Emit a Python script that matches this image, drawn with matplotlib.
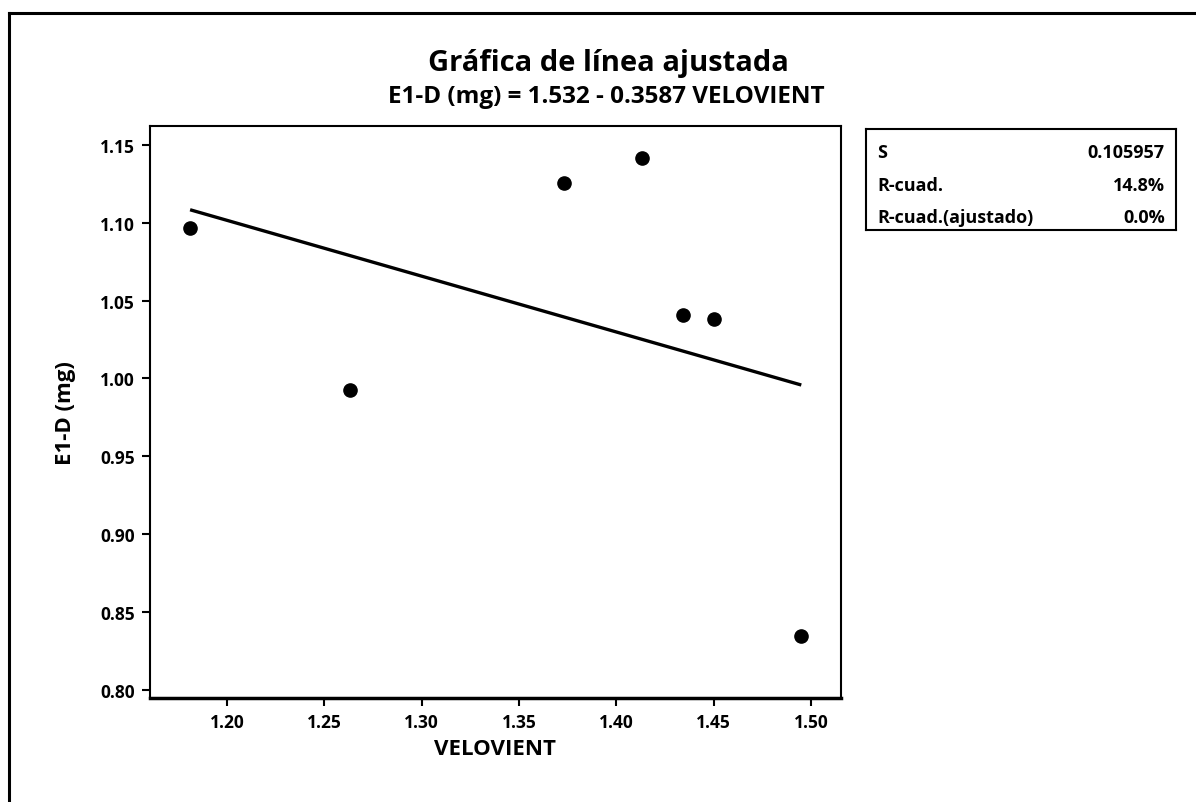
import numpy as np
import matplotlib.pyplot as plt
from matplotlib.lines import Line2D

plt.rcParams['font.family'] = ['Open Sans', 'DejaVu Sans']
plt.rcParams['font.weight'] = 'bold'

# Observed data
velovient = [1.181, 1.263, 1.373, 1.413, 1.434, 1.450, 1.495]
e1d_mg = [1.0965, 0.9925, 1.1258, 1.1418, 1.0409, 1.0382, 0.8344]

# Fitted model and summary
intercept = 1.532
slope = -0.3587
stat_names = ['S', 'R-cuad.', 'R-cuad.(ajustado)']
stat_values = ['0.105957', '14.8%', '0.0%']

x_ticks = [1.20, 1.25, 1.30, 1.35, 1.40, 1.45, 1.50]
y_ticks = [0.80, 0.85, 0.90, 0.95, 1.00, 1.05, 1.10, 1.15]

W, H = 1196, 803
fig = plt.figure(figsize=(W / 100, H / 100), dpi=100)

# outer frame (left and top edges)
fig.add_artist(Line2D([9 / W, 9 / W], [0, 1 - 14 / H], color='black', lw=2.2,
                      transform=fig.transFigure))
fig.add_artist(Line2D([9 / W, 1], [1 - 14 / H, 1 - 14 / H], color='black', lw=2.2,
                      transform=fig.transFigure))

ax = fig.add_axes([150 / W, 1 - 699 / H, (841 - 150) / W, (699 - 127) / H])

xs = np.array([min(velovient), max(velovient)])
ax.plot(xs, intercept + slope * xs, color='black', lw=2.4, solid_capstyle='butt')
ax.plot(velovient, e1d_mg, 'o', color='black', ms=9.5)

ax.set_xlim(1.1604, 1.5154)
ax.set_ylim(0.7946, 1.1622)
ax.set_xticks(x_ticks)
ax.set_xticklabels([f'{v:.2f}' for v in x_ticks])
ax.set_yticks(y_ticks)
ax.set_yticklabels([f'{v:.2f}' for v in y_ticks])
ax.tick_params(direction='out', length=6, width=1.5, labelsize=12.5, pad=5)
for lab in ax.get_xticklabels() + ax.get_yticklabels():
    lab.set_fontweight('bold')
for side in ax.spines:
    ax.spines[side].set_linewidth(1.5)
ax.spines['bottom'].set_linewidth(2.5)

ax.set_xlabel('VELOVIENT', fontsize=16, fontweight='bold', labelpad=5)
ax.set_ylabel('E1-D (mg)', fontsize=16, fontweight='bold', labelpad=17)

fig.text(608 / W, 1 - 63 / H, 'Gráfica de línea ajustada', ha='center', va='center',
         fontsize=21, fontweight='bold')
fig.text(606 / W, 1 - 97 / H, 'E1-D (mg) = 1.532 - 0.3587 VELOVIENT', ha='center',
         va='center', fontsize=17.5, fontweight='bold')

# summary box
box = fig.add_axes([866 / W, 1 - 231 / H, 310 / W, 101 / H])
box.set_xticks([])
box.set_yticks([])
for side in box.spines:
    box.spines[side].set_linewidth(1.5)
row_y = [153, 186, 218]
for name, val, ry in zip(stat_names, stat_values, row_y):
    yy = (231 - ry) / 101
    box.text(11 / 310, yy, name, ha='left', va='center', fontsize=13,
             fontweight='bold', transform=box.transAxes)
    box.text(299 / 310, yy, val, ha='right', va='center', fontsize=13,
             fontweight='bold', transform=box.transAxes)

fig.savefig('out.png', dpi=100)
